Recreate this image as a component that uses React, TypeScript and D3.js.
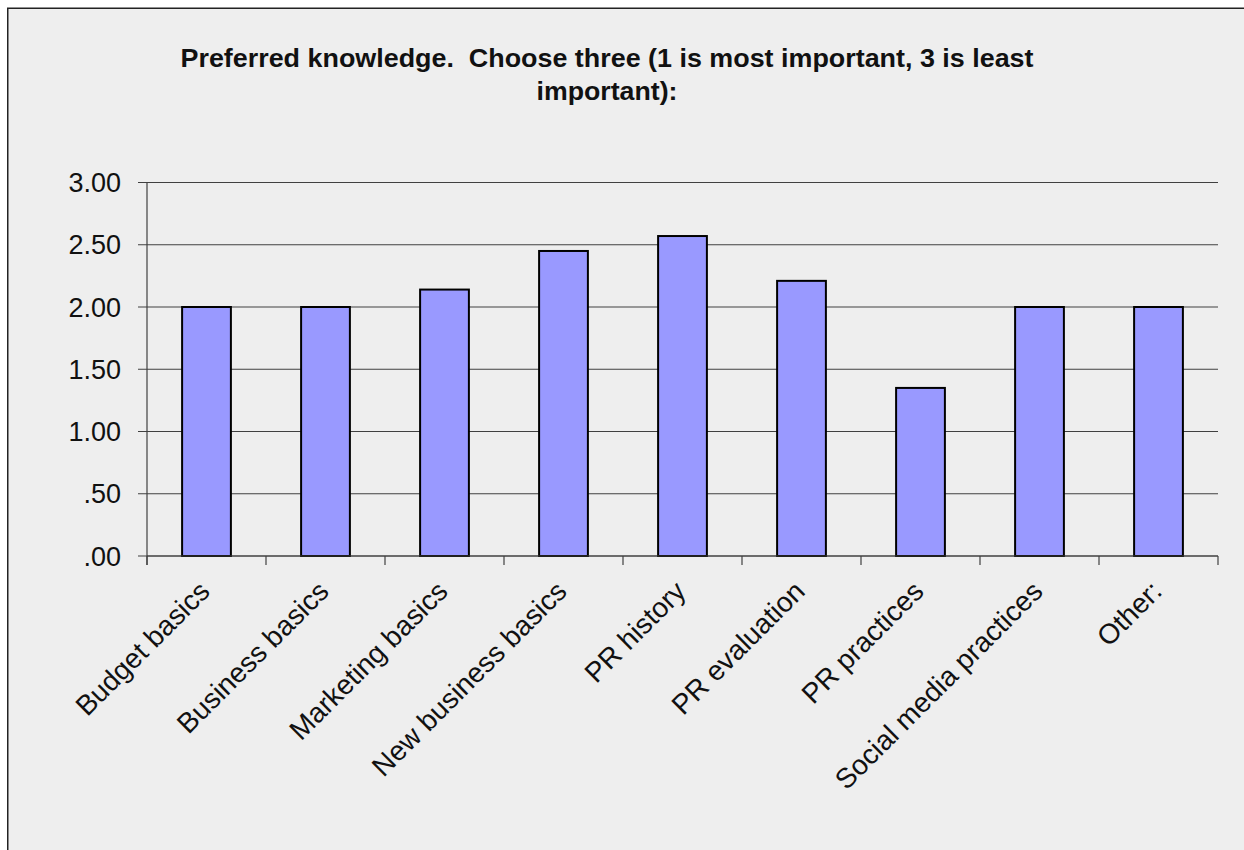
import React from "react";
import * as d3 from "d3";

const categories = [
  "Budget basics",
  "Business basics",
  "Marketing basics",
  "New business basics",
  "PR history",
  "PR evaluation",
  "PR practices",
  "Social media practices",
  "Other:",
];
const values = [2.0, 2.0, 2.14, 2.45, 2.57, 2.21, 1.35, 2.0, 2.0];
const yTicks = [0, 0.5, 1, 1.5, 2, 2.5, 3];
const titleLines = [
  "Preferred knowledge.  Choose three (1 is most important, 3 is least",
  "important):",
];

const fmt = (v: number) => {
  const s = d3.format(".2f")(v);
  return s.startsWith("0") ? s.slice(1) : s;
};

export default function App() {
  const W = 1244;
  const H = 850;
  const left = 147;
  const right = 1218;
  const top = 182.5;
  const bottom = 556;
  const x = d3.scaleBand<string>().domain(categories).range([left, right]).paddingInner(0.59).paddingOuter(0.295);
  const step = x.step();
  const y = d3.scaleLinear().domain([0, 3]).range([bottom, top]);
  const font = "'Liberation Sans', Arial, sans-serif";
  const bounds = d3.range(categories.length + 1).map((i) => left + i * step);

  return (
    <svg
      width={W}
      height={H}
      style={{ position: "fixed", left: 0, top: 0, display: "block", background: "#ffffff" }}
    >
      <rect x={7.75} y={8.25} width={W + 20} height={H + 20} fill="#eeeeee" stroke="#222" strokeWidth={1.5} />
      {titleLines.map((t, i) => (
        <text
          key={i}
          x={607}
          y={66.5 + i * 33.5}
          textAnchor="middle"
          fontFamily={font}
          fontWeight="bold"
          fontSize={25}
          fill="#111"
          style={{ whiteSpace: "pre" }}
          textLength={i === 0 ? 853 : 141}
          lengthAdjust="spacingAndGlyphs"
        >
          {t}
        </text>
      ))}
      {yTicks.map((t) => (
        <g key={t}>
          <line x1={left - 9} x2={right} y1={y(t)} y2={y(t)} stroke="#404040" strokeWidth={1.2} />
          <text
            x={121}
            y={y(t) + 9.5}
            textAnchor="end"
            fontFamily={font}
            fontSize={27}
            fill="#111"
          >
            {fmt(t)}
          </text>
        </g>
      ))}
      <line x1={left} x2={left} y1={top} y2={bottom + 9} stroke="#404040" strokeWidth={1.2} />
      {bounds.map((b, i) => (
        <line key={i} x1={b} x2={b} y1={bottom} y2={bottom + 9} stroke="#404040" strokeWidth={1.2} />
      ))}
      {categories.map((c, i) => (
        <rect
          key={c}
          x={x(c)!}
          y={y(values[i])}
          width={x.bandwidth()}
          height={y(0) - y(values[i])}
          fill="#9999ff"
          stroke="#000"
          strokeWidth={2}
        />
      ))}
      <line x1={left} x2={right} y1={bottom} y2={bottom} stroke="#404040" strokeWidth={1.2} />
      {categories.map((c) => {
        const cx = x(c)! + x.bandwidth() / 2;
        return (
          <text
            key={c}
            transform={`translate(${cx + 5},${593}) rotate(-45)`}
            textAnchor="end"
            fontFamily={font}
            fontSize={28}
            fill="#111"
          >
            {c}
          </text>
        );
      })}
    </svg>
  );
}
